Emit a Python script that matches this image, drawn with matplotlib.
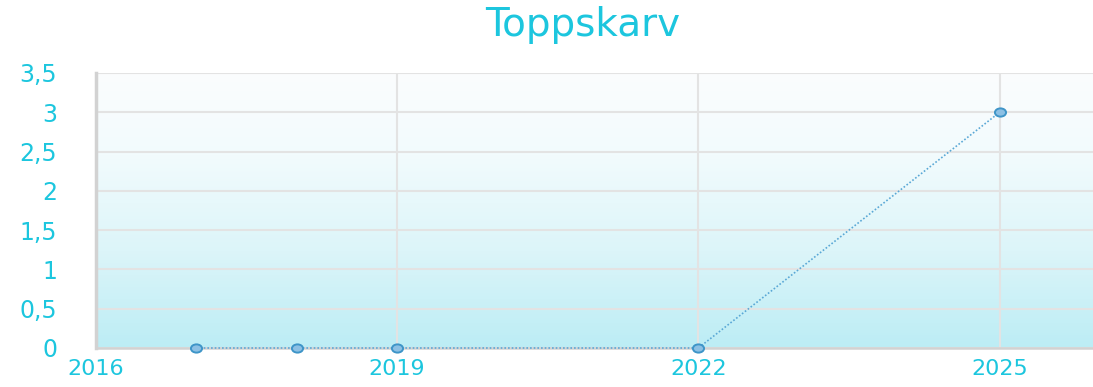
import numpy as np
import matplotlib
matplotlib.use("Agg")
import matplotlib.pyplot as plt
from matplotlib.colors import LinearSegmentedColormap
from matplotlib.ticker import FuncFormatter
from matplotlib.path import Path
from matplotlib.transforms import Affine2D

years = [2017, 2018, 2019, 2022, 2025]
counts = [0, 0, 0, 0, 3]
x_ticks = [2016, 2019, 2022, 2025]
y_ticks = [0, 0.5, 1, 1.5, 2, 2.5, 3, 3.5]
title = "Toppskarv"

accent = "#1cc6de"

fig = plt.figure(figsize=(10.93, 3.87), dpi=100)
ax = fig.add_axes([0.0878, 0.1008, 0.9122, 0.7106])

xmin, xmax = 2016, 2025.93
ymin, ymax = 0, 3.5
ax.set_xlim(xmin, xmax)
ax.set_ylim(ymin, ymax)

# vertical gradient background: pale at top, light cyan at bottom
cmap = LinearSegmentedColormap.from_list(
    "bg", [(0.0, "#bcedf5"), (0.35, "#dcf5f9"), (0.7, "#f2fbfd"), (1.0, "#fbfdfe")])
grad = np.linspace(0, 1, 256).reshape(-1, 1)
ax.imshow(grad, aspect="auto", cmap=cmap, origin="lower",
          extent=[xmin, xmax, ymin, ymax], zorder=0)

ax.set_xticks(x_ticks)
ax.set_yticks(y_ticks)
ax.grid(True, color="#e3e3e3", linewidth=1.5, zorder=1)

ax.yaxis.set_major_formatter(FuncFormatter(lambda v, p: f"{v:g}".replace(".", ",")))

# slightly flattened round marker
ellipse = Path.unit_circle().transformed(Affine2D().scale(1.35, 1.0))

ax.plot(years, counts, linestyle=(0, (1, 1.2)), color="#5aa8d6", linewidth=1.2,
        marker=ellipse, markersize=8, markerfacecolor="#8cc0e4",
        markeredgecolor="#3e95c8", markeredgewidth=1.4, zorder=3, clip_on=False)

for s in ["top", "right"]:
    ax.spines[s].set_visible(False)
ax.spines["left"].set_color("#d2d2d2")
ax.spines["left"].set_linewidth(2.5)
ax.spines["bottom"].set_color("#d2d2d2")
ax.spines["bottom"].set_linewidth(1.8)

ax.tick_params(axis="both", length=0, labelcolor=accent)
ax.tick_params(axis="y", pad=28, labelsize=17)
ax.tick_params(axis="x", pad=8, labelsize=16)

fig.text(0.533, 0.935, title, ha="center", va="center", fontsize=28, color=accent)

fig.savefig("out.png", dpi=100)
